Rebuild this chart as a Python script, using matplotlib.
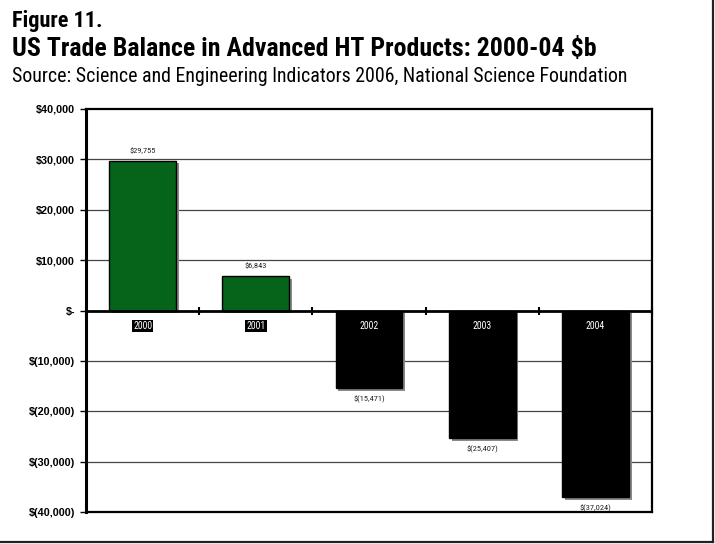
import os
import numpy as np
import matplotlib
matplotlib.use("Agg")
import matplotlib.pyplot as plt
import matplotlib.patheffects as pe
from matplotlib import font_manager
from matplotlib.ticker import FuncFormatter

years = ["2000", "2001", "2002", "2003", "2004"]
balance = [29755, 6843, -15471, -25407, -37024]


def narrow_font(bold):
    # look for an installed narrow/condensed face, else None
    found = []
    for f in font_manager.fontManager.ttflist:
        fn = os.path.basename(f.fname)
        tag = f.name + " " + fn
        if not ("Narrow" in tag or "Condensed" in tag):
            continue
        if "Italic" in fn or "Oblique" in fn or "Extra" in fn or "Semi" in fn or "Ultra" in fn:
            continue
        is_bold = "Bold" in fn
        if is_bold != bold:
            continue
        if not bold and ("Light" in fn or "Medium" in fn or "Thin" in fn or "Black" in fn):
            continue
        found.append(f.fname)
    found.sort(key=lambda p: (0 if "Liberation" in p else 1 if "Roboto" in p else 2, p))
    return found[0] if found else None


def fp(path, size, **fallback):
    if path:
        return dict(fontproperties=font_manager.FontProperties(fname=path, size=size))
    fallback.setdefault("family", ["Liberation Sans", "DejaVu Sans"])
    fallback["fontsize"] = size * 0.7
    return fallback


nb = narrow_font(True)
nr = narrow_font(False)
fig_kw = fp(nb, 16, fontweight="bold")
title_kw = fp(nb, 18.6, fontweight="bold")
src_kw = fp(nr, 14.3)
small_kw = fp(nr, 6)
year_kw = fp(nr, 7)

fig = plt.figure(figsize=(7.15, 5.44), dpi=100)

# titles
fig.text(12 / 715, 1 - 27 / 544, "Figure 11.", va="baseline", **fig_kw)
fig.text(12 / 715, 1 - 56 / 544, "US Trade Balance in Advanced HT Products: 2000-04 $b",
         va="baseline", **title_kw)
fig.text(12 / 715, 1 - 82 / 544, "Source: Science and Engineering Indicators 2006, National Science Foundation",
         va="baseline", **src_kw)

# box around the figure (right and bottom edges)
fig.add_artist(plt.Line2D([712.5 / 715, 712.5 / 715], [1, 1 - 541.5 / 544], color="#222222", lw=1.6))
fig.add_artist(plt.Line2D([0, 712.5 / 715], [1 - 541.5 / 544, 1 - 541.5 / 544], color="#222222", lw=1.6))

ax = fig.add_axes([86 / 715, 1 - 512 / 544, 566 / 715, 403 / 544])

x = np.arange(len(years))
colors = ["#05631a" if v > 0 else "black" for v in balance]
bars = ax.bar(x, balance, width=0.59, color=colors, edgecolor="black", linewidth=1.0, zorder=3)
for b in bars:
    b.set_path_effects([pe.SimplePatchShadow(offset=(2, -2), shadow_rgbFace="#8a8a8a", alpha=1.0),
                        pe.Normal()])

ax.set_xlim(-0.5, len(years) - 0.5)
ax.set_ylim(-40000, 40000)
ax.set_yticks(np.arange(-40000, 40001, 10000))


def money(v, pos):
    if v == 0:
        return "$-"
    if v < 0:
        return "$({:,.0f})".format(-v)
    return "${:,.0f}".format(v)


ax.yaxis.set_major_formatter(FuncFormatter(money))
for lab in ax.get_yticklabels():
    lab.set_family(["Liberation Sans", "DejaVu Sans"])
    lab.set_fontweight("bold")
    lab.set_fontsize(7.8)
ax.tick_params(axis="y", length=4, width=1, pad=4, color="black")
ax.set_xticks([])

for v in (-30000, -20000, -10000, 10000, 20000, 30000):
    ax.axhline(v, color="#444444", lw=0.9, zorder=1)
ax.axhline(0, color="black", lw=2, zorder=4)
bounds = np.arange(len(years) + 1) - 0.5
ax.plot(bounds, np.zeros_like(bounds), ls="none", marker="|", ms=6, mew=1.5,
        color="black", zorder=5, clip_on=False)

for s in ax.spines.values():
    s.set_linewidth(1.6)
    s.set_color("black")
ax.spines["left"].set_linewidth(2.2)

# value labels and year labels
for xi, v, yr in zip(x, balance, years):
    if v > 0:
        ax.annotate("${:,}".format(v), (xi, v), xytext=(0, 5), textcoords="offset points",
                    ha="center", va="bottom", color="#222222", zorder=6, **small_kw)
        ax.annotate(yr, (xi, 0), xytext=(0, -11), textcoords="offset points",
                    ha="center", va="center", color="white", zorder=6,
                    bbox=dict(boxstyle="square,pad=0.12", fc="black", ec="none"), **year_kw)
    else:
        ax.annotate("$({:,})".format(-v), (xi, v), xytext=(0, -5), textcoords="offset points",
                    ha="center", va="top", color="#222222", zorder=6, **small_kw)
        ax.annotate(yr, (xi, 0), xytext=(0, -11), textcoords="offset points",
                    ha="center", va="center", color="white", zorder=6, **year_kw)

fig.savefig("out.png", dpi=100)
